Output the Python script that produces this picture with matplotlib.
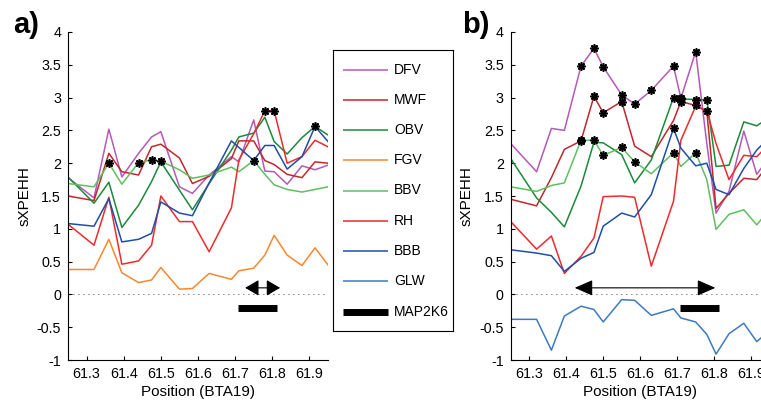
import matplotlib
matplotlib.use('Agg')
import matplotlib.pyplot as plt
from matplotlib.ticker import FormatStrFormatter

plt.rcParams['font.family'] = ['Liberation Sans', 'DejaVu Sans']

# positions (Mb on BTA19) of the windows
pos = [61.25, 61.32, 61.36, 61.395, 61.44, 61.475, 61.50, 61.55, 61.585, 61.63,
       61.69, 61.71, 61.75, 61.78, 61.805, 61.84, 61.88, 61.915, 61.95]

names = ['DFV', 'MWF', 'OBV', 'FGV', 'BBV', 'RH', 'BBB', 'GLW']
cols = ['#b35ab5', '#c1272d', '#1b8a3a', '#f7882f', '#5fbf60', '#ee2a2e', '#1f4ea8', '#3c7bbf']

# panel a
a_DFV = [1.78, 1.47, 2.52, 1.79, 2.15, 2.40, 2.48, 1.64, 1.54, 1.82, 2.10, 2.02, 2.66, 1.88, 1.87, 1.68, 1.96, 1.90, 1.97]
a_MWF = [1.50, 1.43, 2.15, 1.87, 1.82, 2.25, 2.29, 2.08, 1.69, 1.80, 2.07, 2.34, 2.34, 2.04, 1.98, 1.83, 1.78, 2.02, 2.00]
a_OBV = [1.79, 1.39, 1.71, 1.02, 1.36, 1.72, 2.02, 1.59, 1.29, 1.69, 2.20, 2.40, 2.46, 2.70, 2.33, 2.14, 2.39, 2.56, 2.43]
a_FGV = [0.38, 0.38, 0.84, 0.33, 0.18, 0.22, 0.41, 0.08, 0.09, 0.32, 0.23, 0.36, 0.40, 0.60, 0.90, 0.60, 0.44, 0.71, 0.45]
a_BBV = [1.69, 1.64, 2.00, 1.68, 2.01, 2.05, 2.03, 1.90, 1.77, 1.82, 1.94, 1.87, 2.04, 1.83, 1.67, 1.60, 1.56, 1.60, 1.64]
a_RH = [1.07, 0.75, 1.48, 0.46, 0.51, 0.75, 1.50, 1.11, 1.11, 0.65, 1.32, 2.05, 2.45, 2.80, 2.80, 2.00, 2.10, 2.35, 2.25]
a_BBB = [1.08, 1.04, 1.46, 0.80, 0.84, 0.93, 1.41, 1.24, 1.20, 1.70, 2.34, 2.24, 2.04, 2.27, 2.27, 1.91, 2.10, 2.56, 2.33]

# panel b
b_DFV = [2.30, 1.87, 2.53, 2.50, 3.48, 3.75, 3.47, 3.04, 2.90, 3.11, 3.48, 2.99, 3.70, 2.30, 1.24, 1.57, 2.49, 1.83, 2.10]
b_MWF = [1.45, 1.35, 1.78, 2.21, 2.34, 3.02, 2.77, 2.94, 2.26, 2.10, 2.65, 2.94, 2.88, 2.79, 1.31, 1.54, 1.77, 1.75, 2.00]
b_OBV = [2.07, 1.47, 1.25, 1.03, 1.65, 2.32, 2.31, 2.13, 1.70, 2.05, 3.00, 2.98, 2.97, 2.97, 1.95, 1.97, 2.63, 2.57, 2.70]
b_BBV = [1.64, 1.57, 1.66, 1.70, 2.35, 2.35, 2.12, 2.24, 2.02, 1.84, 2.16, 1.95, 2.16, 1.75, 0.99, 1.22, 1.29, 1.06, 1.30]
b_RH = [1.11, 0.69, 0.89, 0.32, 0.58, 0.86, 1.49, 1.50, 1.48, 0.43, 1.42, 2.35, 2.87, 2.80, 2.30, 1.75, 2.12, 2.10, 2.30]
b_BBB = [0.68, 0.63, 0.59, 0.35, 0.55, 0.64, 1.04, 1.24, 1.18, 1.52, 2.53, 2.23, 1.96, 2.00, 1.60, 1.52, 1.92, 2.20, 2.40]
b_GLW = [-0.38, -0.38, -0.85, -0.33, -0.18, -0.23, -0.42, -0.08, -0.09, -0.32, -0.22, -0.36, -0.42, -0.61, -0.91, -0.60, -0.44, -0.72, -0.55]

# significant windows (index into pos)
a_sig = {'BBV': [2, 4, 5, 6], 'RH': [13, 14], 'BBB': [12, 17]}
b_sig = {'DFV': [4, 5, 6, 7, 8, 9, 10, 11, 12], 'MWF': [4, 5, 6, 7, 11, 12, 13],
         'OBV': [10, 11, 12, 13], 'BBV': [4, 5, 6, 7, 8, 10, 12], 'BBB': [10]}

# MAP2K6 gene and the candidate regions (arrows)
gene = [61.707, 61.812]
a_arrow = [61.727, 61.821]
b_arrow = [61.423, 61.803]

panel_a = {'DFV': a_DFV, 'MWF': a_MWF, 'OBV': a_OBV, 'FGV': a_FGV,
           'BBV': a_BBV, 'RH': a_RH, 'BBB': a_BBB}
panel_b = {'DFV': b_DFV, 'MWF': b_MWF, 'OBV': b_OBV, 'BBV': b_BBV,
           'RH': b_RH, 'BBB': b_BBB, 'GLW': b_GLW}

fig = plt.figure(figsize=(7.61, 4.01), dpi=100)
ax_a = fig.add_axes([68/761, 41/401, 260/761, 328/401])
ax_b = fig.add_axes([510.7/761, 41/401, 259/761, 328/401])


def draw(ax, data, sig, arrow, head):
    ax.axhline(0, color='k', lw=0.6, ls=(0, (1, 5)), zorder=1)
    for n, c in zip(names, cols):
        if n not in data:
            continue
        ax.plot(pos, data[n], color=c, lw=1.1, zorder=2)
        if n in sig:
            ax.plot([pos[i] for i in sig[n]], [data[n][i] for i in sig[n]],
                    ls='none', marker=(8, 2, 0), ms=6, mew=1.2, color='k', zorder=3)
    ax.plot(gene, [-0.2, -0.2], color='k', lw=5, solid_capstyle='butt')
    ax.annotate('', xy=(arrow[1], 0.1), xytext=(arrow[0], 0.1),
                arrowprops=dict(arrowstyle='<|-|>,head_length=%g,head_width=0.35' % head,
                                mutation_scale=14, color='k', lw=0.8,
                                shrinkA=0, shrinkB=0))
    ax.set_xlim(61.25, 61.95)
    ax.set_ylim(-1, 4)
    ax.set_yticks([-1, -0.5, 0, 0.5, 1, 1.5, 2, 2.5, 3, 3.5, 4])
    ax.set_xticks([61.3, 61.4, 61.5, 61.6, 61.7, 61.8, 61.9])
    ax.yaxis.set_major_formatter(FormatStrFormatter('%g'))
    ax.xaxis.set_major_formatter(FormatStrFormatter('%g'))
    ax.tick_params(direction='in', length=3, width=0.8, labelsize=10.3, pad=5)
    ax.spines['top'].set_visible(False)
    ax.spines['right'].set_visible(False)
    ax.spines['left'].set_linewidth(0.8)
    ax.spines['bottom'].set_linewidth(0.8)
    ax.set_xlabel('Position (BTA19)', fontsize=11, labelpad=3)
    ax.set_ylabel('sXPEHH', fontsize=11, labelpad=4)


draw(ax_a, panel_a, a_sig, a_arrow, 0.6)
draw(ax_b, panel_b, b_sig, b_arrow, 0.8)

fig.text(13/761, 1 - 25/401, 'a)', fontsize=21, fontweight='bold', va='center')
fig.text(462/761, 1 - 25/401, 'b)', fontsize=21, fontweight='bold', va='center')

# legend box (drawn by hand, pixel units inside the box)
lax = fig.add_axes([333/761, 70/401, 120/761, 281/401])
lax.set_xlim(0, 120)
lax.set_ylim(281, 0)
lax.set_xticks([])
lax.set_yticks([])
for s in lax.spines.values():
    s.set_linewidth(0.8)
for i, (n, c) in enumerate(zip(names + ['MAP2K6'], cols + ['k'])):
    yy = 19.5 + i * 30.25
    lax.plot([9.5, 55], [yy, yy], color=c, lw=5 if n == 'MAP2K6' else 1.1,
             solid_capstyle='butt')
    lax.text(61, yy, n, fontsize=10, va='center', ha='left')

fig.savefig('out.png', dpi=100)
